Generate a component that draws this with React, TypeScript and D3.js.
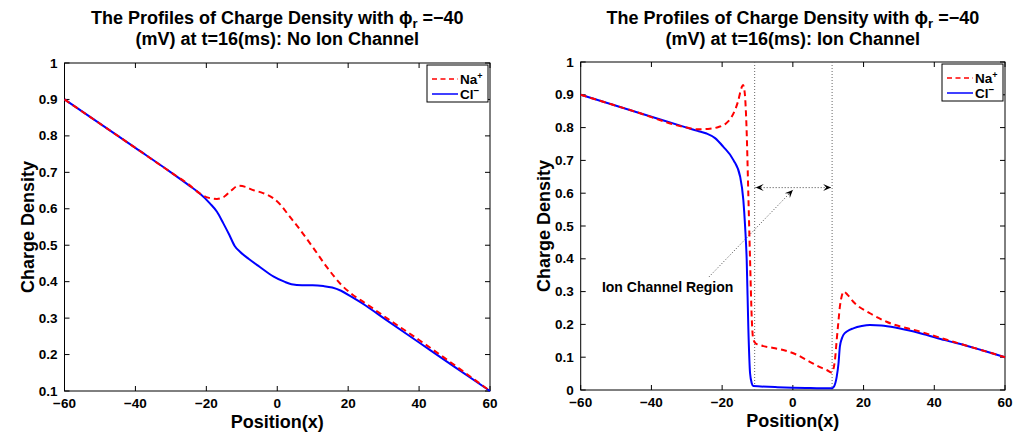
import React from "react";
import * as d3 from "d3";

// ---------- data ----------
const xTicks = [-60, -40, -20, 0, 20, 40, 60];
const yTicksLeft = [0.1, 0.2, 0.3, 0.4, 0.5, 0.6, 0.7, 0.8, 0.9, 1];
const yTicksRight = [0, 0.1, 0.2, 0.3, 0.4, 0.5, 0.6, 0.7, 0.8, 0.9, 1];

// Left panel: no ion channel
const naLeft: [number, number][] = [
  [-60, 0.9], [-40, 0.767], [-30, 0.7], [-25, 0.667], [-22, 0.643], [-20, 0.632],
  [-17, 0.627], [-15, 0.633], [-13, 0.65], [-11, 0.663], [-9, 0.66], [-7, 0.652],
  [-4, 0.643], [-1, 0.628], [1, 0.61], [3, 0.585], [6, 0.548], [10, 0.495],
  [14, 0.44], [18, 0.392], [21, 0.366], [25, 0.34], [30, 0.306], [40, 0.24],
  [50, 0.171], [60, 0.1],
];
const clLeft: [number, number][] = [
  [-60, 0.9], [-40, 0.767], [-30, 0.7], [-25, 0.665], [-22, 0.643], [-19, 0.615],
  [-17, 0.592], [-15.2, 0.56], [-13.5, 0.528], [-12, 0.498], [-10.5, 0.482],
  [-8, 0.462], [-5, 0.441], [-1, 0.414], [2, 0.4], [4, 0.393], [7, 0.39],
  [10, 0.39], [13, 0.388], [15.5, 0.384], [18, 0.375], [21, 0.358], [25, 0.334],
  [30, 0.3], [40, 0.233], [50, 0.166], [60, 0.1],
];

// Right panel: ion channel
const naRight: [number, number][] = [
  [-60, 0.9], [-45, 0.85], [-30, 0.8], [-27, 0.795], [-24, 0.796], [-21, 0.802],
  [-19, 0.812], [-17.3, 0.833], [-15.5, 0.88], [-14.5, 0.922], [-14.1, 0.93],
  [-13.6, 0.905], [-13.1, 0.8], [-12.6, 0.6], [-12.1, 0.396], [-11.6, 0.213],
  [-11.2, 0.155], [-10.5, 0.142], [-9.3, 0.137], [-5, 0.127], [-2.7, 0.122],
  [1, 0.108], [4.8, 0.086], [8, 0.068], [9.6, 0.061], [11, 0.053], [11.9, 0.091],
  [12.4, 0.152], [12.9, 0.21], [13.3, 0.254], [13.8, 0.285], [14.4, 0.3],
  [15.5, 0.29], [17.1, 0.269], [21.8, 0.234], [26.5, 0.208], [36, 0.178],
  [45.4, 0.147], [54.8, 0.117], [60, 0.1],
];
const clRight: [number, number][] = [
  [-60, 0.9], [-45, 0.85], [-30, 0.8], [-27, 0.79], [-24.4, 0.782], [-22, 0.768],
  [-19.7, 0.742], [-16.8, 0.701], [-14.9, 0.65], [-14, 0.579], [-13.5, 0.498],
  [-13.05, 0.396], [-12.6, 0.193], [-12.1, 0.051], [-11.6, 0.02], [-11.2, 0.012],
  [-5, 0.009], [0, 0.007], [5, 0.006], [11, 0.005], [11.6, 0.01], [12.4, 0.04],
  [12.9, 0.08], [13.3, 0.132], [13.8, 0.155], [14.3, 0.168], [15.5, 0.18],
  [17.1, 0.188], [19.5, 0.195], [21.8, 0.198], [25, 0.197], [30, 0.188],
  [36, 0.173], [43, 0.152], [50.1, 0.132], [60, 0.1],
];

const channelBounds = [-10.8, 11.1];
const channelArrowY = 0.617;
const annotationText = "Ion Channel Region";
const annotationTextPos: [number, number] = [-54, 0.3];
const annotationLineStart: [number, number] = [-23.7, 0.345];
const annotationLineEnd: [number, number] = [0.0, 0.61];

const titleLine1 = "The Profiles of Charge Density with ";
const titleLeft2 = "(mV) at t=16(ms): No Ion Channel";
const titleRight2 = "(mV) at t=16(ms): Ion Channel";

const FONT = "'Liberation Sans', Arial, Helvetica, sans-serif";

const fmtTick = (v: number) =>
  (v === 0 ? "0" : v === 1 ? "1" : v.toFixed(1)).replace("-", "\u2212");
const fmtX = (v: number) => String(v).replace("-", "\u2212");

function arrowHead(tx: number, ty: number, ang: number, L = 8, W = 3.5) {
  const c = Math.cos(ang), s = Math.sin(ang);
  const bx = tx - c * L, by = ty - s * L;
  const nx = tx - c * L * 0.6, ny = ty - s * L * 0.6;
  const p1 = [bx - s * W, by + c * W];
  const p2 = [bx + s * W, by - c * W];
  return `M${tx},${ty}L${p1[0]},${p1[1]}L${nx},${ny}L${p2[0]},${p2[1]}Z`;
}

type PanelProps = {
  left: number; right: number; top: number; bottom: number;
  yDomain: [number, number]; yTicks: number[];
  na: [number, number][]; cl: [number, number][];
  title2: string; annotate?: boolean;
};

const TICK_FS = 13.5;

function Panel(p: PanelProps) {
  const x = d3.scaleLinear().domain([-60, 60]).range([p.left, p.right]);
  const y = d3.scaleLinear().domain(p.yDomain).range([p.bottom, p.top]);
  const line = d3.line<[number, number]>()
    .x((d) => x(d[0])).y((d) => y(d[1])).curve(d3.curveMonotoneX);
  const cx = (p.left + p.right) / 2;
  const cy = (p.top + p.bottom) / 2;
  const tl = 5;
  const lgRight = p.right - 2;
  const lgLeft = lgRight - 61;
  const lgTop = p.top + 2;
  return (
    <g>
      {/* title */}
      <text x={cx} y={24} textAnchor="middle" fontFamily={FONT} fontWeight="bold" fontSize={18}>
        {titleLine1}
        <tspan>{"\u03D5"}</tspan>
        <tspan fontSize={13} dy={4}>r</tspan>
        <tspan dy={-4}>{" =\u221240"}</tspan>
      </text>
      <text x={cx} y={45} textAnchor="middle" fontFamily={FONT} fontWeight="bold" fontSize={18}>
        {p.title2}
      </text>
      {/* plot frame */}
      <rect x={p.left} y={p.top} width={p.right - p.left} height={p.bottom - p.top}
        fill="white" stroke="black" strokeWidth={1} />
      {/* ticks */}
      {xTicks.map((t) => (
        <g key={"x" + t}>
          <line x1={x(t)} x2={x(t)} y1={p.bottom} y2={p.bottom - tl} stroke="black" />
          <line x1={x(t)} x2={x(t)} y1={p.top} y2={p.top + tl} stroke="black" />
          <text x={x(t)} y={p.bottom + 17} textAnchor="middle" fontFamily={FONT}
            fontWeight="bold" fontSize={TICK_FS}>{fmtX(t)}</text>
        </g>
      ))}
      {p.yTicks.map((t) => (
        <g key={"y" + t}>
          <line x1={p.left} x2={p.left + tl} y1={y(t)} y2={y(t)} stroke="black" />
          <line x1={p.right} x2={p.right - tl} y1={y(t)} y2={y(t)} stroke="black" />
          <text x={p.left - 7} y={y(t) + 4.5} textAnchor="end" fontFamily={FONT}
            fontWeight="bold" fontSize={TICK_FS}>{fmtTick(t)}</text>
        </g>
      ))}
      {/* axis labels */}
      <text x={cx} y={p.bottom + 37} textAnchor="middle" fontFamily={FONT}
        fontWeight="bold" fontSize={18}>Position(x)</text>
      <text transform={`translate(${p.left - 31},${cy}) rotate(-90)`} textAnchor="middle"
        fontFamily={FONT} fontWeight="bold" fontSize={18}>Charge Density</text>
      {/* annotation */}
      {p.annotate && (
        <g>
          {channelBounds.map((b) => (
            <line key={"cb" + b} x1={x(b)} x2={x(b)} y1={y(1)} y2={y(0)}
              stroke="#666" strokeWidth={1} strokeDasharray="1,2" />
          ))}
          <line x1={x(channelBounds[0])} x2={x(channelBounds[1])}
            y1={y(channelArrowY)} y2={y(channelArrowY)}
            stroke="#444" strokeWidth={1} strokeDasharray="1,2" />
          <path d={arrowHead(x(channelBounds[0]) + 1, y(channelArrowY), Math.PI)} fill="black" />
          <path d={arrowHead(x(channelBounds[1]) - 1, y(channelArrowY), 0)} fill="black" />
          <line x1={x(annotationLineStart[0])} y1={y(annotationLineStart[1])}
            x2={x(annotationLineEnd[0])} y2={y(annotationLineEnd[1])}
            stroke="#444" strokeWidth={1} strokeDasharray="1,2" />
          <path d={arrowHead(x(annotationLineEnd[0]), y(annotationLineEnd[1]),
            Math.atan2(y(annotationLineEnd[1]) - y(annotationLineStart[1]),
              x(annotationLineEnd[0]) - x(annotationLineStart[0])))} fill="black" />
          <text x={x(annotationTextPos[0])} y={y(annotationTextPos[1])} fontFamily={FONT}
            fontWeight="bold" fontSize={14}>{annotationText}</text>
        </g>
      )}
      {/* curves */}
      <path d={line(p.cl) || ""} fill="none" stroke="#0000ff" strokeWidth={2} />
      <path d={line(p.na) || ""} fill="none" stroke="#ff0000" strokeWidth={2}
        strokeDasharray="6,4" />
      {/* legend */}
      <rect x={lgLeft} y={lgTop} width={lgRight - lgLeft} height={37} fill="white"
        stroke="black" strokeWidth={1} />
      <line x1={lgLeft + 5} x2={lgLeft + 31} y1={Math.round(lgTop + 13.5)} y2={Math.round(lgTop + 13.5)}
        stroke="#ff0000" strokeWidth={1.5} strokeDasharray="5,3.5" />
      <line x1={lgLeft + 5} x2={lgLeft + 31} y1={Math.round(lgTop + 29)} y2={Math.round(lgTop + 29)}
        stroke="#0000ff" strokeWidth={1.5} />
      <text x={lgLeft + 33} y={lgTop + 18.5} fontFamily={FONT} fontWeight="bold" fontSize={13.5}>
        Na<tspan fontSize={9} dy={-5}>+</tspan>
      </text>
      <text x={lgLeft + 33} y={lgTop + 34} fontFamily={FONT} fontWeight="bold" fontSize={13.5}>
        Cl<tspan fontSize={10} dy={-5}>{"\u2212"}</tspan>
      </text>
    </g>
  );
}

export default function App() {
  return (
    <svg width={1014} height={433} style={{ position: "absolute", left: 0, top: 0, background: "white" }}>
      <rect width={1014} height={433} fill="white" />
      <Panel left={64.5} right={490} top={63} bottom={391} yDomain={[0.1, 1]}
        yTicks={yTicksLeft} na={naLeft} cl={clLeft} title2={titleLeft2} />
      <Panel left={580.7} right={1005} top={62} bottom={390} yDomain={[0, 1]}
        yTicks={yTicksRight} na={naRight} cl={clRight} title2={titleRight2} annotate />
    </svg>
  );
}
